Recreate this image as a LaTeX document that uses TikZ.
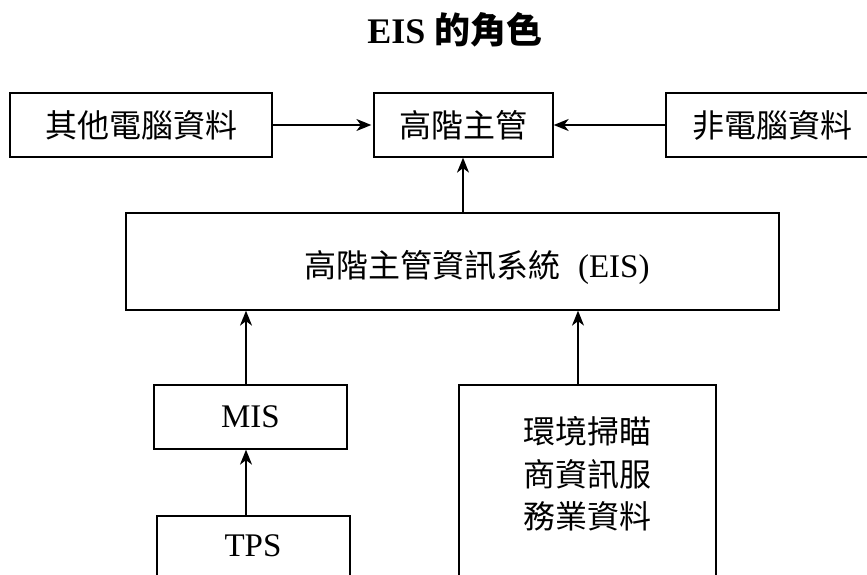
\documentclass[tikz,border=0pt]{standalone}
\usepackage{fontspec}
\setmainfont{Liberation Serif}
\newfontfamily\cjk{Noto Sans CJK TC}
\usetikzlibrary{arrows.meta}
\begin{document}
\begin{tikzpicture}[x=1pt,y=-1pt,
  box/.style={draw=black,line width=1.3pt,inner sep=0pt,anchor=center},
  lbl/.style={inner sep=0pt,anchor=center,font=\fontsize{32}{42.5}\selectfont\cjk},
  ltn/.style={inner sep=0pt,anchor=center,font=\fontsize{33}{42}\selectfont},
  arr/.style={line width=1.3pt,-{Stealth[length=15pt,width=12pt,inset=4.5pt]}}]
\clip (0,0) rectangle (867,575);
\fill[white] (0,0) rectangle (867,575);
% title
\node[inner sep=0pt] (title) at (455,30) {\fontsize{36}{40}\selectfont\bfseries EIS {\cjk 的角色}};
% top row
\node[box,minimum width=262pt,minimum height=64pt,lbl] (oth) at (141,125) {其他電腦資料};
\node[box,minimum width=179pt,minimum height=64pt,lbl] (exec) at (463.5,125) {高階主管};
\node[box,minimum width=214pt,minimum height=64pt] (non) at (773,125) {};
\node[lbl] (nont) at (772,125) {非電腦資料};
% EIS
\node[box,minimum width=653pt,minimum height=97pt] (eis) at (452.5,261.5) {};
\node[lbl] (eist) at (477,267) {高階主管資訊系統\hspace{0.55em}{\fontsize{33}{40}\selectfont\rmfamily (EIS)}};
% MIS, TPS
\node[box,minimum width=193pt,minimum height=64pt,ltn] (mis) at (250.5,417) {MIS};
\node[box,minimum width=193pt,minimum height=90pt] (tps) at (253.5,561) {};
\node[ltn] (tpst) at (253,546) {TPS};
% right box
\node[box,minimum width=257pt,minimum height=220pt] (env) at (587.5,495) {};
\node[lbl,align=center] (envt) at (587.5,474) {環境掃瞄\\商資訊服\\務業資料};
% arrows
\coordinate (a1) at (246,0);
\coordinate (a2) at (578,0);
\coordinate (a3) at (463,0);
\draw[arr] (oth.east) -- ([xshift=-2pt]exec.west);
\draw[arr] (non.west) -- (exec.east);
\draw[arr] (eis.north -| a3) -- (exec.south -| a3);
\draw[arr] (mis.north -| a1) -- (eis.south -| a1);
\draw[arr] (tps.north -| a1) -- (mis.south -| a1);
\draw[arr] (env.north -| a2) -- (eis.south -| a2);
\end{tikzpicture}
\end{document}
